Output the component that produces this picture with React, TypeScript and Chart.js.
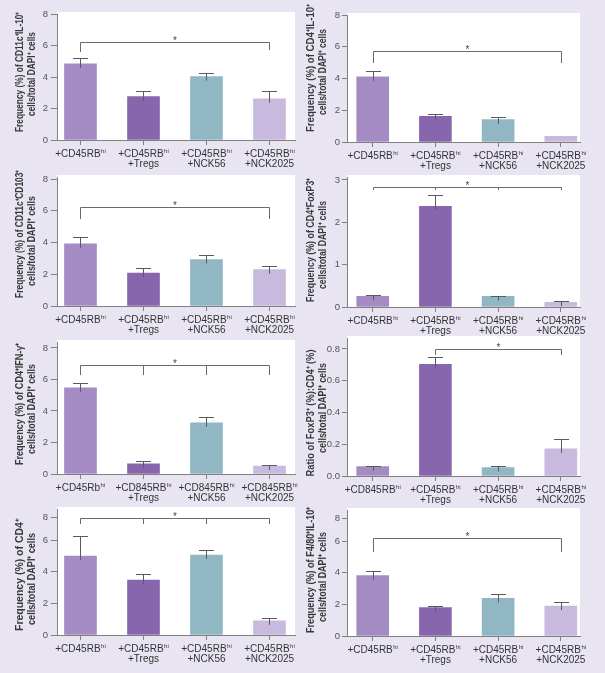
import React, { useEffect, useRef } from 'react';
import { Chart, registerables } from 'chart.js';

Chart.register(...registerables);

const FONT = '"Liberation Sans", Arial, Helvetica, sans-serif';
const PAGE_BG = '#e8e4f1';
const BAR_COLORS = ['#a48bc4', '#8866ae', '#92b7c4', '#c8b9de'];

// ---- x tick labels ----
const groupLabels = [['+CD45RBʰⁱ'], ['+CD45RBʰⁱ', '+Tregs'], ['+CD45RBʰⁱ', '+NCK56'], ['+CD45RBʰⁱ', '+NCK2025']];
const ifnLabels = [['+CD45Rbʰⁱ'], ['+CD845RBʰⁱ', '+Tregs'], ['+CD845RBʰⁱ', '+NCK56'], ['+CD845RBʰⁱ', '+NCK2025']];
const ratioLabels = [['+CD845RBʰⁱ'], ['+CD45RBʰⁱ', '+Tregs'], ['+CD45RBʰⁱ', '+NCK56'], ['+CD45RBʰⁱ', '+NCK2025']];

// ---- y ticks (values and their labels) ----
const yTicksPct8 = [0, 2, 4, 6, 8];
const yLabelsPct8 = ['0', '2', '4', '6', '8'];
const yTicksPct3 = [0, 1, 2, 3];
const yLabelsPct3 = ['0', '1', '2', '3'];
const yTicksRatio = [0, 0.2, 0.4, 0.6, 0.8];
const yLabelsRatio = ['0.0', '0.2', '0.4', '0.6', '0.8'];
// bottom row: the printed "8" sits lower than a uniform step would put it
const yTicksRow4 = [0, 2, 4, 6, 7.45];
const yLabelsRow4 = ['0', '2', '4', '6', '8'];

// ---- series (mean, error, significance bracket) ----
const cd11cIl10Mean = [4.83, 2.75, 4.02, 2.62];
const cd11cIl10Err = [0.36, 0.36, 0.21, 0.51];
const cd11cIl10Sig = { level: 6.22, at: [0, 3], ends: [5.59, 5.7] };

const cd4Il10Mean = [4.1, 1.62, 1.41, 0.36];
const cd4Il10Err = [0.36, 0.17, 0.17, 0];
const cd4Il10Sig = { level: 5.75, at: [0, 3], ends: [4.99, 4.99] };

const cd11cCd103Mean = [3.92, 2.08, 2.93, 2.29];
const cd11cCd103Err = [0.4, 0.34, 0.31, 0.21];
const cd11cCd103Sig = { level: 6.21, at: [0, 3], ends: [5.47, 5.47] };

const cd4Foxp3Mean = [0.25, 2.38, 0.25, 0.11];
const cd4Foxp3Err = [0.04, 0.26, 0.02, 0.02];
const cd4Foxp3Sig = { level: 2.84, at: [0, 1, 2, 3], ends: [2.76, 2.76, 2.76, 2.76] };

const cd4IfngMean = [5.47, 0.64, 3.25, 0.51];
const cd4IfngErr = [0.3, 0.17, 0.36, 0.04];
const cd4IfngSig = { level: 6.91, at: [0, 1, 2, 3], ends: [6.28, 6.28, 6.28, 6.28] };

const foxp3RatioMean = [0.059, 0.703, 0.053, 0.171];
const foxp3RatioErr = [0.004, 0.047, 0.008, 0.063];
const foxp3RatioSig = { level: 0.8, at: [1, 3], ends: [0.76, 0.76] };

const cd4Mean = [4.99, 3.47, 5.05, 0.9];
const cd4Err = [1.26, 0.38, 0.32, 0.19];
const cd4Sig = { level: 7.37, at: [0, 1, 2, 3], ends: [6.99, 6.99, 6.99, 6.99] };

const f480Il10Mean = [3.81, 1.79, 2.38, 1.89];
const f480Il10Err = [0.29, 0.13, 0.25, 0.24];
const f480Il10Sig = { level: 6.21, at: [0, 3], ends: [5.33, 5.33] };

type Sig = { level: number; at: number[]; ends: number[] };
type Spec = {
  col: 0 | 1;
  top: number;
  bottom: number;
  title: string[];
  titleLen: number[];
  titleMid: number[];
  values: number[];
  errors: number[];
  labels: string[][];
  yMax: number;
  yTicks: number[];
  yLabels: string[];
  sig: Sig;
};

const DAPI = 'cells/total DAPI⁺ cells';

const panels: Spec[] = [
  { col: 0, top: 14, bottom: 140, title: ['Frequency (%) of CD11c⁺IL-10⁺', DAPI], titleLen: [120, 84], titleMid: [72, 74], values: cd11cIl10Mean, errors: cd11cIl10Err, labels: groupLabels, yMax: 8, yTicks: yTicksPct8, yLabels: yLabelsPct8, sig: cd11cIl10Sig },
  { col: 1, top: 15, bottom: 142, title: ['Frequency (%) of CD4⁺IL-10⁺', DAPI], titleLen: [128, 86], titleMid: [68, 72], values: cd4Il10Mean, errors: cd4Il10Err, labels: groupLabels, yMax: 8, yTicks: yTicksPct8, yLabels: yLabelsPct8, sig: cd4Il10Sig },
  { col: 0, top: 177, bottom: 306, title: ['Frequency (%) of CD11c⁺CD103⁺', DAPI], titleLen: [128, 90], titleMid: [234, 241], values: cd11cCd103Mean, errors: cd11cCd103Err, labels: groupLabels, yMax: 8.13, yTicks: yTicksPct8, yLabels: yLabelsPct8, sig: cd11cCd103Sig },
  { col: 1, top: 177, bottom: 307, title: ['Frequency (%) of CD4⁺FoxP3⁺', DAPI], titleLen: [124, 88], titleMid: [240, 245], values: cd4Foxp3Mean, errors: cd4Foxp3Err, labels: groupLabels, yMax: 3.07, yTicks: yTicksPct3, yLabels: yLabelsPct3, sig: cd4Foxp3Sig },
  { col: 0, top: 342, bottom: 474, title: ['Frequency (%) of CD4⁺IFN-γ⁺', DAPI], titleLen: [122, 90], titleMid: [404, 409], values: cd4IfngMean, errors: cd4IfngErr, labels: ifnLabels, yMax: 8.38, yTicks: yTicksPct8, yLabels: yLabelsPct8, sig: cd4IfngSig },
  { col: 1, top: 338, bottom: 476, title: ['Ratio of FoxP3⁺ (%):CD4⁺ (%)', DAPI], titleLen: [127, 90], titleMid: [413, 408], values: foxp3RatioMean, errors: foxp3RatioErr, labels: ratioLabels, yMax: 0.869, yTicks: yTicksRatio, yLabels: yLabelsRatio, sig: foxp3RatioSig },
  { col: 0, top: 509, bottom: 635, title: ['Frequency (%) of CD4⁺', DAPI], titleLen: [112, 92], titleMid: [575, 579], values: cd4Mean, errors: cd4Err, labels: groupLabels, yMax: 7.96, yTicks: yTicksRow4, yLabels: yLabelsRow4, sig: cd4Sig },
  { col: 1, top: 510, bottom: 636, title: ['Frequency (%) of F4/80⁺IL-10⁺', DAPI], titleLen: [126, 90], titleMid: [570, 577], values: f480Il10Mean, errors: f480Il10Err, labels: groupLabels, yMax: 7.96, yTicks: yTicksRow4, yLabels: yLabelsRow4, sig: f480Il10Sig },
];

const PAD_TOP = 14;
const X_AXIS_H = 38;
const SUP: Record<string, string> = { 'ʰ': 'h', 'ⁱ': 'i' };

// draws "+CD45RBʰⁱ" with the superscript rendered small and raised
function drawRichLine(ctx: CanvasRenderingContext2D, text: string, cx: number, cy: number) {
  const runs: { t: string; sup: boolean }[] = [];
  for (const ch of Array.from(text)) {
    const sup = ch in SUP;
    const c = sup ? SUP[ch] : ch;
    const last = runs[runs.length - 1];
    if (last && last.sup === sup) last.t += c;
    else runs.push({ t: c, sup });
  }
  const mainFont = `10px ${FONT}`;
  const supFont = `6px ${FONT}`;
  let total = 0;
  const widths = runs.map((r) => {
    ctx.font = r.sup ? supFont : mainFont;
    const w = ctx.measureText(r.t).width + (r.sup ? 0.5 : 0);
    total += w;
    return w;
  });
  let x = cx - total / 2;
  ctx.textAlign = 'left';
  ctx.textBaseline = 'middle';
  runs.forEach((r, i) => {
    ctx.font = r.sup ? supFont : mainFont;
    ctx.fillText(r.t, x + (r.sup ? 0.5 : 0), r.sup ? cy - 3 : cy);
    x += widths[i];
  });
}

function Panel({ spec }: { spec: Spec }) {
  const ref = useRef<HTMLCanvasElement>(null);
  const isLeft = spec.col === 0;
  const width = isLeft ? 302 : 303;
  const height = PAD_TOP + (spec.bottom - spec.top) + X_AXIS_H;
  const canvasLeft = isLeft ? 0 : 302;
  const canvasTop = spec.top - PAD_TOP;

  useEffect(() => {
    const canvas = ref.current;
    if (!canvas) return;

    const decor = {
      id: 'decor',
      beforeDraw(chart: any) {
        const { ctx, chartArea: a } = chart;
        ctx.save();
        ctx.fillStyle = '#ffffff';
        ctx.fillRect(a.left, a.top - 2, a.right - a.left, a.bottom - a.top + 2);
        ctx.restore();
      },
      afterDatasetsDraw(chart: any) {
        const { ctx } = chart;
        const ys = chart.scales.y;
        const meta = chart.getDatasetMeta(0);
        ctx.save();
        ctx.lineWidth = 1;
        ctx.strokeStyle = '#5a5a5a';
        spec.errors.forEach((e, i) => {
          if (!e) return;
          const bar = meta.data[i];
          const x = Math.round(bar.x) + 0.5;
          const y0 = ys.getPixelForValue(spec.values[i]);
          const y1 = Math.round(ys.getPixelForValue(spec.values[i] + e)) + 0.5;
          ctx.beginPath();
          ctx.moveTo(x, Math.min(y0 + 4, ys.bottom));
          ctx.lineTo(x, y1);
          ctx.moveTo(x - 7.5, y1);
          ctx.lineTo(x + 7.5, y1);
          ctx.stroke();
        });
        const s = spec.sig;
        const xs = s.at.map((i) => Math.round(meta.data[i].x) + 0.5);
        const yl = Math.round(ys.getPixelForValue(s.level)) + 0.5;
        ctx.strokeStyle = '#6a6a6a';
        ctx.beginPath();
        ctx.moveTo(xs[0], yl);
        ctx.lineTo(xs[xs.length - 1], yl);
        s.at.forEach((_, k) => {
          ctx.moveTo(xs[k], yl);
          ctx.lineTo(xs[k], Math.round(ys.getPixelForValue(s.ends[k])));
        });
        ctx.stroke();
        ctx.fillStyle = '#444';
        ctx.font = `10px ${FONT}`;
        ctx.textAlign = 'center';
        ctx.textBaseline = 'bottom';
        ctx.fillText('*', (xs[0] + xs[xs.length - 1]) / 2, yl + 4);
        ctx.restore();
      },
      afterDraw(chart: any) {
        const { ctx } = chart;
        const xs = chart.scales.x;
        const base = chart.chartArea.bottom;
        ctx.save();
        ctx.fillStyle = '#333';
        spec.labels.forEach((lines, i) => {
          const cx = xs.getPixelForValue(i);
          lines.forEach((line, k) => drawRichLine(ctx, line, cx, base + 14 + k * 10.5));
        });
        // rotated y-axis title, two lines
        ctx.fillStyle = '#383838';
        ctx.font = `bold 10px ${FONT}`;
        ctx.textAlign = 'center';
        ctx.textBaseline = 'middle';
        const lineX = isLeft ? [20, 32] : [311, 323];
        spec.title.forEach((line, k) => {
          const w = ctx.measureText(line).width;
          ctx.save();
          ctx.translate(lineX[k] - canvasLeft, spec.titleMid[k] - canvasTop);
          ctx.rotate(-Math.PI / 2);
          ctx.scale(spec.titleLen[k] / w, 1);
          ctx.fillText(line, 0, 0);
          ctx.restore();
        });
        ctx.restore();
      },
    };

    const xMin = isLeft ? -0.373 : -0.41;
    const xMax = isLeft ? 3.405 : 3.306;

    const chart = new Chart(canvas, {
      type: 'bar',
      data: {
        datasets: [
          {
            data: spec.values.map((v, i) => ({ x: i, y: v })),
            backgroundColor: BAR_COLORS,
            borderWidth: 0,
            barThickness: 32,
          },
        ],
      },
      options: {
        animation: false,
        responsive: false,
        maintainAspectRatio: false,
        devicePixelRatio: 1,
        layout: { padding: { top: PAD_TOP, left: 0, right: isLeft ? 7 : 25, bottom: 0 } },
        plugins: { legend: { display: false }, tooltip: { enabled: false } },
        scales: {
          x: {
            type: 'linear',
            min: xMin,
            max: xMax,
            offset: false,
            afterBuildTicks: (sc: any) => {
              sc.ticks = spec.labels.map((_, i) => ({ value: i }));
            },
            ticks: { display: false },
            grid: { drawOnChartArea: false, offset: false, tickLength: 5, color: '#808080' },
            border: { color: '#808080' },
            afterFit: (sc: any) => {
              sc.height = X_AXIS_H;
            },
          },
          y: {
            min: 0,
            max: spec.yMax,
            afterBuildTicks: (sc: any) => {
              sc.ticks = spec.yTicks.map((v) => ({ value: v }));
            },
            ticks: {
              callback: (_v: any, idx: number) => spec.yLabels[idx],
              font: { family: FONT, size: 9.5 },
              color: '#555',
              padding: isLeft ? 3 : 2,
            },
            grid: { drawOnChartArea: false, tickLength: isLeft ? 6 : 5, color: '#808080' },
            border: { color: '#808080' },
            title: { display: false },
            afterFit: (sc: any) => {
              sc.width = isLeft ? 57 : 45;
            },
          },
        },
      } as any,
      plugins: [decor],
    });
    return () => chart.destroy();
  }, [spec]);

  return (
    <canvas
      ref={ref}
      width={width}
      height={height}
      style={{
        position: 'absolute',
        left: canvasLeft,
        top: canvasTop,
        width,
        height,
      }}
    />
  );
}

export default function App() {
  return (
    <div
      style={{
        position: 'absolute',
        left: 0,
        top: 0,
        width: 605,
        height: 673,
        background: PAGE_BG,
        overflow: 'hidden',
      }}
    >
      {panels.map((p, i) => (
        <Panel key={i} spec={p} />
      ))}
    </div>
  );
}
